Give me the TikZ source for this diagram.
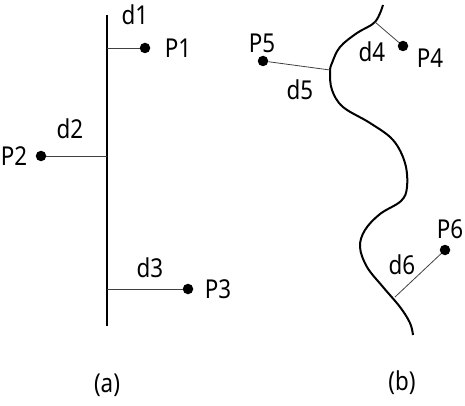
\documentclass[tikz,border=0pt]{standalone}
\usepackage{fontspec}
\setmainfont{Noto Sans}[FakeStretch=0.86]
\begin{document}
\begin{tikzpicture}[x=1pt,y=-1pt,
  pt/.style={circle,fill=black,inner sep=0pt,minimum size=10.5pt},
  lbl/.style={inner sep=0pt,font=\fontsize{26}{30}\selectfont},
  main/.style={line width=2pt},
  dist/.style={line width=0.8pt,draw=black!75}]
\useasboundingbox (0,0) rectangle (465,406);
% (a)
\coordinate (atop) at (107,15);
\coordinate (abot) at (107,326);
\draw[main] (atop) -- (abot);
\coordinate (f1) at (107,48);
\coordinate (f2) at (107,156);
\coordinate (f3) at (107,289);
\node[pt] (p1) at (145,48) {};
\node[pt] (p2) at (41,156) {};
\node[pt] (p3) at (188,289) {};
\draw[dist] (f1) -- (p1);
\draw[dist] (f2) -- (p2);
\draw[dist] (f3) -- (p3);
\node[lbl] (l1) at (135,15) {d1};
\node[lbl] (l2) at (70,129) {d2};
\node[lbl] (l3) at (150,268) {d3};
\node[lbl] (t1) at (178,48) {P1};
\node[lbl] (t2) at (14,156) {P2};
\node[lbl] (t3) at (218,289) {P3};
\node[lbl] (ca) at (107,385) {(a)};
% (b)
\draw[main] plot[smooth,tension=0.6] coordinates {(383,5) (375,22) (357,33) (340,47) (332,63) (330,72) (332,90) (343,107) (370,123) (393,140) (405,163) (407,187) (401,201) (380,214) (365,230) (360,247) (367,267) (383,287) (400,307) (410,323) (413,335)};
\coordinate (f4) at (375,22);
\coordinate (f5) at (330,70);
\coordinate (f6) at (395,297);
\node[pt] (p4) at (403,46) {};
\node[pt] (p5) at (263,61) {};
\node[pt] (p6) at (445,250) {};
\draw[dist] (f4) -- (p4);
\draw[dist] (f5) -- (p5);
\draw[dist] (f6) -- (p6);
\node[lbl] (l4) at (372,52) {d4};
\node[lbl] (l5) at (300,90) {d5};
\node[lbl] (l6) at (402,265) {d6};
\node[lbl] (t4) at (430,58) {P4};
\node[lbl] (t5) at (262,43) {P5};
\node[lbl] (t6) at (450,229) {P6};
\node[lbl] (cb) at (402,383) {(b)};
\end{tikzpicture}
\end{document}
